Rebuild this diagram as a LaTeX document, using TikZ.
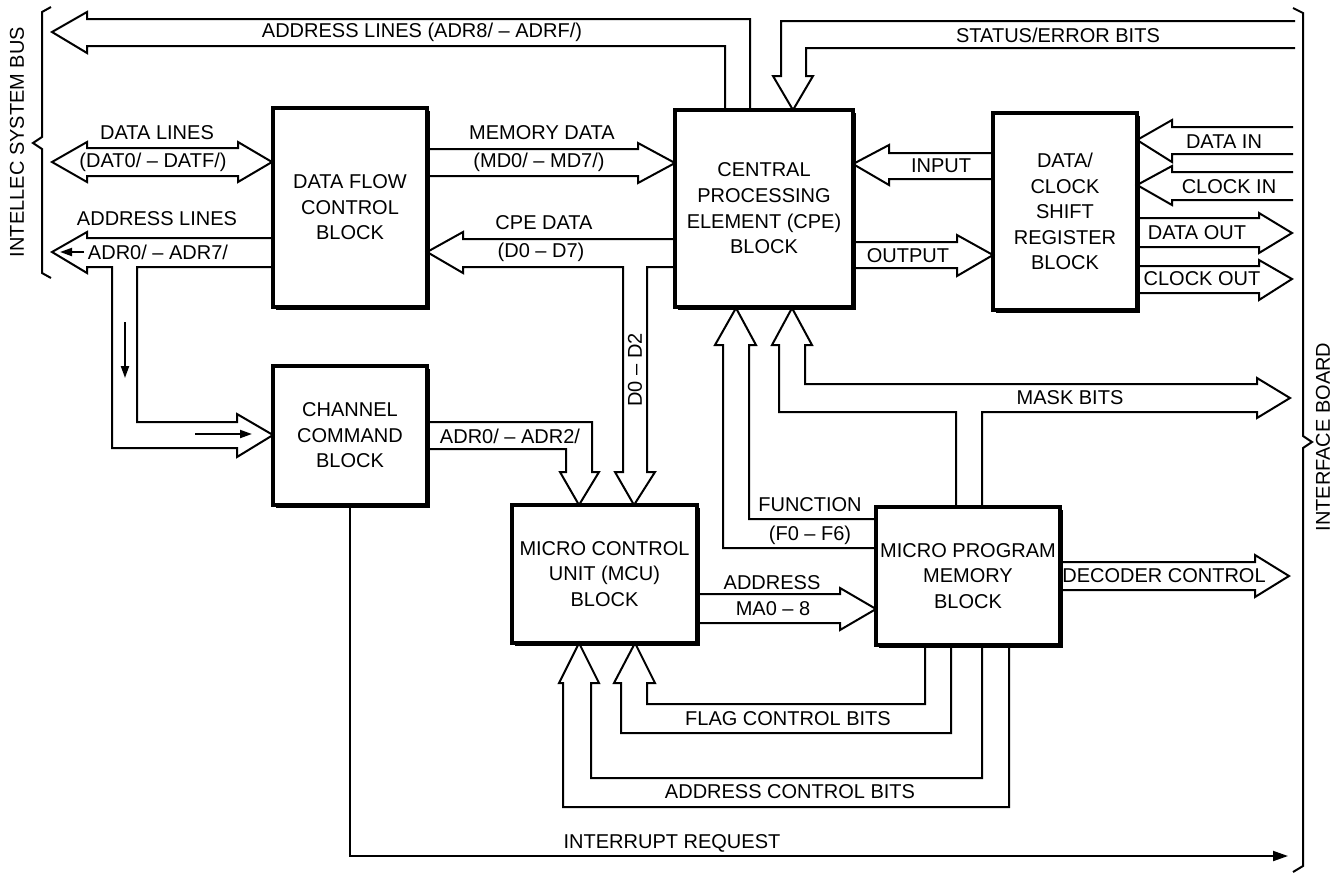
\documentclass[tikz,border=0pt]{standalone}
\usepackage{fontspec}
\setmainfont{Liberation Sans}
\usetikzlibrary{shadows,arrows.meta}

\begin{document}
\begin{tikzpicture}[x=0.5pt,y=-0.5pt,
    blk/.style={draw,fill=white,line width=1.6pt,align=center,inner sep=0pt,
      drop shadow={shadow xshift=1.4pt,shadow yshift=-1.4pt,opacity=1,fill=black},
      font=\fontsize{10}{12.8}\selectfont},
    lbl/.style={inner sep=0pt,font=\fontsize{10}{11}\selectfont},
    bus/.style={line width=1pt,line join=miter},
    sig/.style={line width=1pt,-{Triangle[length=7.5pt,width=5pt]}},
    tick/.style={line width=1pt,-{Triangle[length=6pt,width=4pt]}}]
  \useasboundingbox (0,0) rectangle (1335,875);

  \node[blk,minimum width=77pt,minimum height=99.5pt] (dfc) at (350,207.5) {DATA FLOW\\CONTROL\\BLOCK};
  \node[blk,minimum width=89pt,minimum height=98.5pt] (cpe) at (764,208.5) {CENTRAL\\PROCESSING\\ELEMENT (CPE)\\BLOCK};
  \node[blk,minimum width=72pt,minimum height=98.5pt] (dcsr) at (1065,211.5) {DATA/\\CLOCK\\SHIFT\\REGISTER\\BLOCK};
  \node[blk,minimum width=77pt,minimum height=69.5pt] (ccb) at (350,435.5) {CHANNEL\\COMMAND\\BLOCK};
  \node[blk,minimum width=92.5pt,minimum height=69pt] (mcu) at (604.5,574) {MICRO CONTROL\\UNIT (MCU)\\BLOCK};
  \node[blk,minimum width=92pt,minimum height=69pt] (mpm) at (968,576) {MICRO PROGRAM\\MEMORY\\BLOCK};

  \draw[bus] (750,110) -- (750,19) -- (87,19) -- (87,12) -- (52,32) -- (87,53) -- (87,46) -- (725,46) -- (725,110);
  \draw[bus] (1295,21) -- (781,21) -- (781,76) -- (773,76) -- (793,110) -- (813,76) -- (806,76) -- (806,48) -- (1295,48);
  \draw[bus] (52,162) -- (87,142) -- (87,148) -- (238,148) -- (238,142) -- (272,162) -- (238,182) -- (238,176) -- (87,176) -- (87,182) -- cycle;
  \draw[bus] (273,238) -- (87,238) -- (87,232) -- (52,252) -- (87,273) -- (87,267) -- (112,267) -- (112,448) -- (237,448) -- (237,457)
    -- (273,435) -- (237,414) -- (237,422) -- (137,422) -- (137,267) -- (273,267);
  \draw[bus] (427,149) -- (638,149) -- (638,143) -- (675,163) -- (638,183) -- (638,176) -- (427,176);
  \draw[bus] (675,239) -- (463,239) -- (463,232) -- (427,252) -- (463,273) -- (463,267) -- (623,267) -- (623,472) -- (615,472)
    -- (634,505) -- (655,472) -- (647,472) -- (647,267) -- (675,267);
  \draw[bus] (427,422) -- (592,422) -- (592,472) -- (599,472) -- (579,505) -- (560,472) -- (566,472) -- (566,449) -- (427,449);
  \draw[bus] (993,153) -- (889,153) -- (889,145) -- (853,164) -- (889,185) -- (889,179) -- (993,179);
  \draw[bus] (853,242) -- (957,242) -- (957,235) -- (993,255) -- (957,276) -- (957,268) -- (853,268);
  \draw[bus] (1293,127) -- (1172,127) -- (1172,120) -- (1137,140) -- (1172,162) -- (1172,154) -- (1293,154);
  \draw[bus] (1293,172) -- (1172,172) -- (1172,166) -- (1137,185) -- (1172,205) -- (1172,200) -- (1293,200);
  \draw[bus] (1137,218) -- (1259,218) -- (1259,213) -- (1292,233) -- (1259,253) -- (1259,247) -- (1137,247);
  \draw[bus] (1137,266) -- (1259,266) -- (1259,260) -- (1292,279) -- (1259,300) -- (1259,293) -- (1137,293);
  \draw[bus] (876,519) -- (749,519) -- (749,345) -- (756,345) -- (736,308) -- (715,345) -- (723,345) -- (723,548) -- (876,548);
  \draw[bus] (956,507) -- (956,412) -- (779,412) -- (779,345) -- (772,345) -- (792,308) -- (812,345) -- (805,345) -- (805,384)
    -- (1257,384) -- (1257,378) -- (1290,398) -- (1257,418) -- (1257,412) -- (982,412) -- (982,507);
  \draw[bus] (697,594) -- (840,594) -- (840,588) -- (876,609) -- (840,630) -- (840,623) -- (697,623);
  \draw[bus] (1060,562) -- (1255,562) -- (1255,555) -- (1289,576) -- (1255,597) -- (1255,590) -- (1060,590);
  \draw[bus] (925,645) -- (925,704) -- (647,704) -- (647,683) -- (655,683) -- (635,643) -- (614,683) -- (621,683) -- (621,733) -- (951,733) -- (951,645);
  \draw[bus] (982,645) -- (982,778) -- (591,778) -- (591,683) -- (599,683) -- (579,643) -- (559,683) -- (563,683) -- (563,807) -- (1009,807) -- (1009,645);

  \coordinate (irq) at (1288,856);
  \draw[sig] (ccb.south) |- (irq);
  \draw[tick] (84,252) -- (60,252);
  \draw[tick] (125,322) -- (125,378);
  \draw[tick] (195,434) -- (252,434);

  \draw[line width=1pt] (51,7) -- (42,12) -- (42,137) -- (33,143) -- (42,149) -- (42,273) -- (51,278);
  \draw[line width=1pt] (1293,8) -- (1303,13) -- (1303,436) -- (1312,442) -- (1303,448) -- (1303,866) -- (1293,872);
  \node[lbl,rotate=90] (isb) at (17,142) {INTELLEC SYSTEM BUS};
  \node[lbl,rotate=90] (ifb) at (1323,437) {INTERFACE BOARD};

  \node[lbl] (adrhi) at (422,32) {ADDRESS LINES (ADR8/ -- ADRF/)};
  \node[lbl] (stat) at (1058,35) {STATUS/ERROR BITS};
  \node[lbl] (dl) at (157,133) {DATA LINES};
  \node[lbl] (dat) at (153,162) {(DAT0/ -- DATF/)};
  \node[lbl] (al) at (157,219) {ADDRESS LINES};
  \node[lbl] (adrlo) at (158,252) {ADR0/ -- ADR7/};
  \node[lbl] (md) at (542,133) {MEMORY DATA};
  \node[lbl] (mdb) at (539,162) {(MD0/ -- MD7/)};
  \node[lbl] (cd) at (544,223) {CPE DATA};
  \node[lbl] (cdb) at (541,252) {(D0 -- D7)};
  \node[lbl] (inp) at (941,166) {INPUT};
  \node[lbl] (outp) at (908,256) {OUTPUT};
  \node[lbl] (din) at (1224,142) {DATA IN};
  \node[lbl] (cin) at (1229,187) {CLOCK IN};
  \node[lbl] (dout) at (1197,233) {DATA OUT};
  \node[lbl] (cout) at (1202,279) {CLOCK OUT};
  \node[lbl] (adrc) at (510,436) {ADR0/ -- ADR2/};
  \node[lbl,rotate=90] (dd) at (635,370) {D0 -- D2};
  \node[lbl] (fn) at (810,505) {FUNCTION};
  \node[lbl] (fnb) at (810,535) {(F0 -- F6)};
  \node[lbl] (mask) at (1070,398) {MASK BITS};
  \node[lbl] (ad) at (772,583) {ADDRESS};
  \node[lbl] (ma) at (773,609) {MA0 -- 8};
  \node[lbl] (dec) at (1164,576) {DECODER CONTROL};
  \node[lbl] (flag) at (788,719) {FLAG CONTROL BITS};
  \node[lbl] (actl) at (790,792) {ADDRESS CONTROL BITS};
  \node[lbl] (ireq) at (672,843) {INTERRUPT REQUEST};
\end{tikzpicture}
\end{document}
